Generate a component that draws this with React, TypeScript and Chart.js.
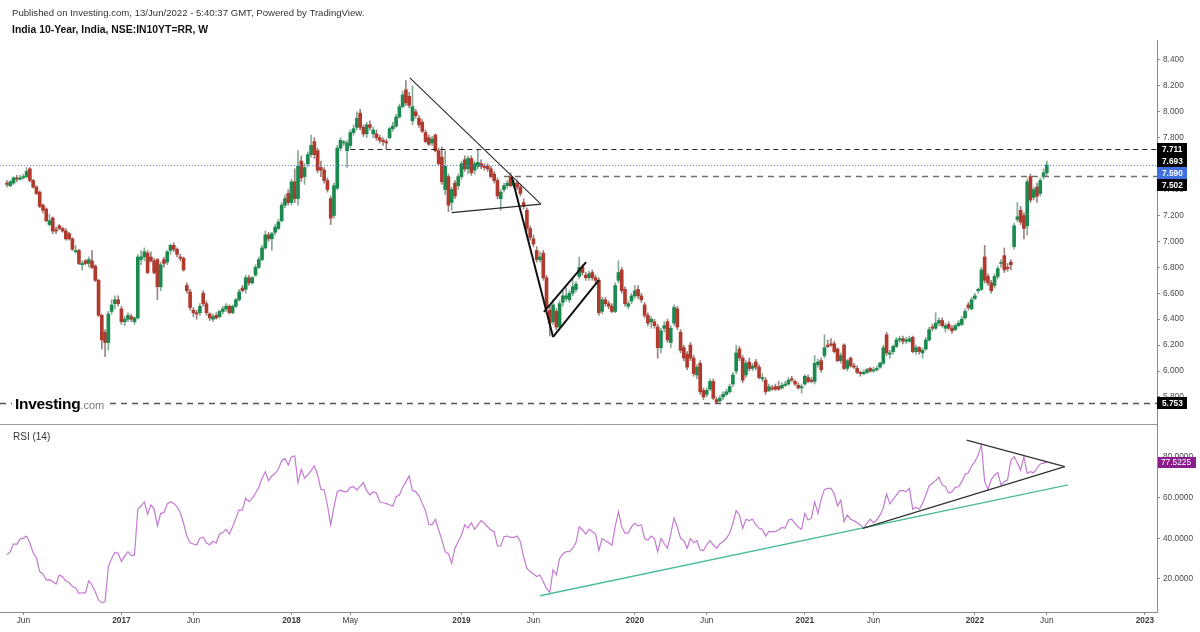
import React, { useEffect, useRef } from 'react';
import { Chart, registerables } from 'chart.js';

Chart.register(...registerables);

type Candle = [number, number, number, number]; // open, high, low, close

const candles2016: Candle[] = [
  [7.45,7.47,7.42,7.44],[7.43,7.47,7.42,7.46],[7.45,7.50,7.44,7.49],[7.49,7.51,7.46,7.48],[7.48,7.51,7.47,7.49],
  [7.49,7.52,7.48,7.50],[7.50,7.57,7.49,7.54],[7.56,7.57,7.46,7.47],[7.47,7.48,7.41,7.42],[7.42,7.43,7.36,7.37],
  [7.38,7.39,7.26,7.27],[7.28,7.29,7.22,7.24],[7.25,7.26,7.15,7.16],[7.13,7.21,7.12,7.16],[7.18,7.19,7.06,7.08],
  [7.09,7.11,7.06,7.08],[7.12,7.13,7.09,7.10],[7.10,7.11,7.07,7.08],[7.08,7.10,7.01,7.02],[7.06,7.07,7.01,7.02],
  [7.02,7.03,6.93,6.94],[6.92,6.97,6.91,6.93],[6.93,6.94,6.82,6.83],[6.82,6.85,6.78,6.83],[6.85,6.86,6.82,6.83],
  [6.83,6.88,6.80,6.86],[6.85,6.93,6.79,6.80],[6.81,6.82,6.69,6.70],[6.70,6.71,6.42,6.43],[6.43,6.44,6.17,6.24],
  [6.30,6.32,6.11,6.22],[6.22,6.46,6.16,6.44],[6.46,6.55,6.44,6.51],[6.52,6.58,6.48,6.55],[6.55,6.58,6.50,6.52],
];
const candles2017: Candle[] = [
  [6.48,6.50,6.36,6.38],[6.38,6.42,6.35,6.40],[6.40,6.45,6.38,6.43],[6.42,6.44,6.38,6.40],[6.38,6.42,6.36,6.41],
  [6.41,6.90,6.40,6.88],[6.86,6.93,6.82,6.88],[6.88,6.95,6.85,6.92],[6.91,6.93,6.75,6.76],[6.88,6.92,6.84,6.85],
  [6.85,6.87,6.75,6.76],[6.86,6.87,6.55,6.65],[6.65,6.84,6.62,6.82],[6.86,6.88,6.80,6.83],[6.84,6.93,6.82,6.92],
  [6.93,6.98,6.90,6.97],[6.97,6.99,6.92,6.94],[6.94,6.95,6.88,6.90],[6.88,6.90,6.85,6.87],[6.87,6.88,6.77,6.78],
  [6.66,6.68,6.60,6.62],[6.61,6.63,6.47,6.49],[6.47,6.49,6.42,6.45],[6.45,6.47,6.40,6.44],[6.45,6.52,6.43,6.50],
  [6.60,6.62,6.50,6.52],[6.52,6.54,6.43,6.45],[6.44,6.45,6.39,6.41],[6.40,6.44,6.38,6.42],[6.43,6.45,6.40,6.41],
  [6.42,6.47,6.41,6.46],[6.46,6.50,6.44,6.48],[6.48,6.52,6.46,6.50],[6.50,6.51,6.44,6.45],[6.45,6.51,6.44,6.50],
  [6.50,6.56,6.49,6.55],[6.55,6.63,6.54,6.61],[6.64,6.66,6.61,6.62],[6.63,6.74,6.60,6.72],[6.72,6.74,6.66,6.68],
  [6.68,6.73,6.67,6.72],[6.74,6.82,6.73,6.80],[6.80,6.88,6.79,6.86],[6.86,6.97,6.85,6.95],[6.95,7.08,6.94,7.05],
  [7.05,7.07,7.00,7.02],[7.02,7.07,6.93,7.06],[7.07,7.13,7.05,7.11],[7.10,7.17,7.09,7.15],[7.16,7.30,7.15,7.28],
  [7.28,7.36,7.26,7.33],[7.37,7.40,7.28,7.30],
];
const candles2018: Candle[] = [
  [7.30,7.48,7.28,7.46],[7.46,7.56,7.30,7.33],[7.33,7.70,7.28,7.58],[7.62,7.66,7.46,7.49],[7.50,7.60,7.44,7.57],
  [7.60,7.69,7.58,7.67],[7.67,7.82,7.65,7.74],[7.77,7.80,7.64,7.67],[7.70,7.72,7.53,7.55],[7.57,7.62,7.50,7.55],
  [7.55,7.57,7.45,7.47],[7.47,7.49,7.38,7.40],[7.33,7.35,7.13,7.18],[7.20,7.45,7.18,7.43],[7.41,7.74,7.40,7.72],
  [7.72,7.80,7.70,7.78],[7.76,7.78,7.74,7.76],[7.70,7.78,7.57,7.76],[7.74,7.86,7.72,7.84],[7.84,7.90,7.82,7.87],
  [7.88,8.00,7.86,7.95],[7.99,8.02,7.86,7.88],[7.88,7.90,7.81,7.83],[7.83,7.92,7.80,7.90],[7.90,7.93,7.86,7.88],
  [7.83,7.88,7.80,7.86],[7.83,7.86,7.78,7.80],[7.80,7.82,7.76,7.78],[7.78,7.80,7.74,7.77],[7.77,7.79,7.71,7.76],
  [7.80,7.88,7.79,7.87],[7.87,7.92,7.85,7.89],[7.89,7.98,7.88,7.96],[7.96,8.06,7.95,8.04],[8.04,8.16,8.03,8.13],
  [8.17,8.24,8.05,8.07],[8.12,8.15,8.03,8.05],[7.93,8.20,7.90,8.04],[8.00,8.02,7.95,7.97],[7.95,7.97,7.88,7.90],
  [7.92,7.94,7.84,7.85],[7.84,7.86,7.76,7.77],[7.80,7.82,7.74,7.75],[7.76,7.81,7.74,7.79],[7.82,7.83,7.69,7.70],
  [7.70,7.72,7.59,7.60],[7.65,7.73,7.44,7.46],[7.40,7.70,7.36,7.58],[7.50,7.52,7.23,7.28],[7.30,7.42,7.24,7.40],
  [7.45,7.47,7.33,7.35],[7.43,7.52,7.40,7.50],
];
const candles2019: Candle[] = [
  [7.50,7.62,7.48,7.60],[7.63,7.66,7.54,7.56],[7.56,7.66,7.52,7.64],[7.64,7.66,7.51,7.53],[7.55,7.62,7.52,7.60],
  [7.58,7.71,7.56,7.61],[7.60,7.63,7.56,7.58],[7.58,7.60,7.55,7.57],[7.58,7.60,7.54,7.56],[7.56,7.58,7.49,7.50],
  [7.52,7.54,7.45,7.47],[7.47,7.49,7.33,7.35],[7.33,7.40,7.24,7.38],[7.40,7.45,7.38,7.43],[7.43,7.47,7.41,7.45],
  [7.50,7.53,7.42,7.43],[7.43,7.47,7.41,7.45],[7.45,7.47,7.40,7.42],[7.42,7.44,7.35,7.37],[7.30,7.33,7.25,7.27],
  [7.24,7.26,7.08,7.10],[7.10,7.12,7.01,7.03],[7.02,7.05,6.96,6.98],[6.93,6.96,6.84,6.86],[6.86,6.92,6.84,6.88],
  [6.91,6.93,6.70,6.72],[6.72,6.74,6.47,6.49],[6.47,6.50,6.27,6.37],[6.38,6.55,6.36,6.51],[6.46,6.48,6.32,6.34],
  [6.34,6.54,6.33,6.52],[6.53,6.62,6.50,6.58],[6.56,6.64,6.54,6.58],[6.55,6.62,6.53,6.60],[6.60,6.72,6.58,6.65],
  [6.63,6.69,6.61,6.67],[6.73,6.88,6.71,6.80],[6.80,6.82,6.74,6.76],[6.74,6.76,6.70,6.72],[6.72,6.77,6.70,6.75],
  [6.76,6.78,6.70,6.72],[6.72,6.74,6.68,6.70],[6.70,6.72,6.43,6.45],[6.46,6.57,6.44,6.55],[6.55,6.57,6.50,6.52],
  [6.52,6.54,6.48,6.50],[6.50,6.52,6.45,6.46],[6.46,6.68,6.45,6.66],[6.70,6.85,6.68,6.76],[6.78,6.80,6.60,6.62],
  [6.63,6.65,6.50,6.52],[6.50,6.54,6.48,6.52],
];
const candles2020: Candle[] = [
  [6.54,6.60,6.52,6.58],[6.58,6.66,6.56,6.62],[6.63,6.66,6.56,6.58],[6.58,6.60,6.53,6.55],[6.51,6.53,6.41,6.43],
  [6.43,6.45,6.35,6.37],[6.38,6.42,6.33,6.40],[6.38,6.40,6.33,6.35],[6.34,6.36,6.10,6.18],[6.18,6.33,6.14,6.31],
  [6.33,6.38,6.30,6.35],[6.38,6.40,6.22,6.24],[6.22,6.35,6.18,6.33],[6.37,6.51,6.35,6.49],[6.48,6.50,6.32,6.34],
  [6.30,6.32,6.14,6.16],[6.18,6.20,6.08,6.10],[6.13,6.15,6.01,6.03],[6.20,6.22,6.08,6.10],[6.10,6.12,5.96,5.98],
  [5.97,6.05,5.94,6.03],[6.06,6.08,5.82,5.84],[5.85,5.87,5.78,5.80],[5.82,5.87,5.80,5.85],[5.86,5.94,5.85,5.92],
  [5.92,5.94,5.78,5.79],[5.78,5.80,5.753,5.76],[5.77,5.81,5.76,5.79],[5.80,5.84,5.78,5.82],[5.82,5.86,5.81,5.84],
  [5.84,5.90,5.83,5.88],[5.90,5.99,5.88,5.97],[6.00,6.20,5.98,6.14],[6.17,6.19,6.08,6.10],[6.10,6.12,5.91,5.93],
  [5.97,6.08,5.95,6.06],[6.07,6.10,6.00,6.02],[6.02,6.06,6.00,6.04],[6.07,6.09,6.01,6.03],[6.03,6.05,5.94,5.95],
  [5.94,5.98,5.92,5.95],[5.93,5.95,5.82,5.84],[5.85,5.90,5.84,5.88],[5.87,5.89,5.85,5.86],[5.88,5.90,5.85,5.86],
  [5.88,5.92,5.85,5.86],[5.87,5.91,5.86,5.89],[5.89,5.92,5.88,5.90],[5.90,5.95,5.89,5.93],[5.94,5.96,5.92,5.93],
  [5.92,5.93,5.89,5.90],[5.89,5.91,5.86,5.87],
];
const candles2021: Candle[] = [
  [5.87,5.90,5.83,5.88],[5.90,5.97,5.89,5.96],[5.95,5.97,5.91,5.92],[5.93,5.95,5.91,5.92],[5.92,6.12,5.90,6.06],
  [6.05,6.09,6.03,6.07],[6.08,6.10,5.99,6.01],[6.12,6.28,6.10,6.18],[6.20,6.24,6.18,6.19],[6.21,6.25,6.19,6.20],
  [6.21,6.23,6.14,6.15],[6.17,6.18,6.07,6.08],[6.08,6.14,6.06,6.12],[6.20,6.21,6.01,6.02],[6.02,6.09,6.00,6.08],
  [6.10,6.11,6.03,6.04],[6.04,6.06,6.02,6.03],[6.02,6.04,5.98,5.99],[5.99,6.00,5.96,5.98],[5.98,6.01,5.97,5.99],
  [5.99,6.02,5.98,6.01],[6.02,6.03,5.99,6.00],[6.00,6.03,5.99,6.01],[6.01,6.04,6.00,6.02],[6.03,6.07,6.02,6.06],
  [6.06,6.20,6.05,6.18],[6.28,6.30,6.12,6.14],[6.13,6.16,6.10,6.14],[6.15,6.20,6.13,6.19],[6.19,6.26,6.18,6.24],
  [6.24,6.27,6.22,6.25],[6.25,6.27,6.21,6.23],[6.23,6.26,6.21,6.24],[6.23,6.27,6.22,6.25],[6.26,6.27,6.14,6.15],
  [6.15,6.20,6.13,6.18],[6.18,6.19,6.13,6.15],[6.14,6.18,6.10,6.16],[6.17,6.26,6.16,6.24],[6.24,6.34,6.23,6.32],
  [6.34,6.36,6.31,6.33],[6.33,6.45,6.32,6.37],[6.37,6.41,6.35,6.39],[6.39,6.41,6.34,6.35],[6.33,6.37,6.30,6.35],
  [6.36,6.38,6.32,6.33],[6.33,6.35,6.29,6.31],[6.32,6.36,6.31,6.35],[6.35,6.39,6.34,6.37],[6.36,6.42,6.35,6.40],
  [6.41,6.48,6.40,6.46],[6.51,6.53,6.47,6.49],[6.48,6.57,6.47,6.55],
];
const candles2022: Candle[] = [
  [6.56,6.60,6.55,6.58],[6.62,6.64,6.60,6.63],[6.63,6.80,6.62,6.78],[6.88,6.97,6.68,6.70],[6.73,6.75,6.66,6.68],
  [6.68,6.70,6.60,6.62],[6.66,6.75,6.64,6.73],[6.73,6.81,6.71,6.79],[6.83,6.86,6.80,6.83],[6.89,6.95,6.76,6.78],
  [6.80,6.83,6.77,6.79],[6.84,6.86,6.78,6.82],[6.96,7.14,6.94,7.12],[7.17,7.30,7.15,7.19],[7.24,7.27,7.13,7.15],
  [7.20,7.22,7.02,7.10],[7.12,7.48,7.05,7.46],[7.50,7.52,7.30,7.32],[7.34,7.42,7.32,7.40],[7.42,7.45,7.30,7.35],
  [7.37,7.49,7.35,7.47],[7.50,7.56,7.48,7.53],[7.53,7.62,7.51,7.59],
];

const rsi2016 = [31.8,33.4,37.2,37.0,39.6,40.1,41.1,37.7,32.9,30.4,23.6,22.4,19.5,19.6,18.6,17.5,21.9,21.1,19.0,18.2,16.2,15.5,12.9,13.1,13.1,19.1,17.0,13.7,9.6,8.3,8.8,26.0,30.1,33.1,32.6];
const rsi2017 = [28.5,31.3,33.4,31.5,31.8,54.3,55.9,58.0,52.0,56.4,54.5,46.1,52.3,52.6,56.9,58.0,57.2,55.6,52.6,47.4,41.1,37.8,37.2,36.7,40.0,40.5,37.6,36.8,38.5,37.7,42.1,42.8,44.4,42.1,45.7,49.9,54.0,54.0,59.7,58.0,59.7,62.2,65.1,69.6,72.8,68.4,70.7,71.9,74.0,78.2,79.4,76.1];
const rsi2018 = [80.2,80.6,67.4,74.0,69.6,71.2,73.3,75.6,71.2,64.1,63.8,56.4,46.6,55.6,63.0,63.8,63.0,63.0,65.1,65.4,63.8,65.7,67.4,63.5,61.3,62.9,62.2,58.0,57.5,57.2,56.4,55.9,60.5,61.3,65.1,67.9,70.7,63.5,63.0,60.9,57.2,53.6,46.9,46.6,49.4,44.1,39.2,33.4,32.3,27.7,35.1,38.4];
const rsi2019 = [41.6,46.6,45.0,47.7,44.4,46.6,48.7,47.4,45.7,44.1,43.3,36.2,36.2,40.8,41.1,40.5,40.5,41.1,38.4,30.9,25.2,23.6,22.4,21.1,21.9,18.6,15.3,13.4,24.4,21.9,30.1,32.3,33.4,33.4,35.1,37.8,45.7,44.1,42.1,44.4,43.3,42.1,33.9,39.9,38.8,37.8,36.6,45.7,53.1,45.7,42.5,42.5];
const rsi2020 = [45.7,47.4,46.1,46.6,39.9,39.0,41.1,39.9,33.4,39.9,37.4,35.1,42.0,49.9,45.7,39.9,38.8,35.1,39.9,37.8,38.8,34.3,34.0,36.8,38.8,36.8,35.1,37.2,38.4,40.0,42.5,47.4,53.6,51.5,44.9,49.4,48.7,49.4,46.6,44.9,44.4,41.1,43.3,43.3,43.3,44.1,45.4,44.9,49.0,49.4,47.4,45.4];
const rsi2021 = [44.4,52.3,49.0,49.9,58.0,52.3,59.2,64.1,64.6,64.6,61.9,55.9,58.8,48.2,51.5,49.4,48.7,47.7,46.6,44.9,47.4,49.4,47.7,49.0,51.5,54.8,61.8,56.9,59.2,61.3,63.5,63.5,63.0,64.6,54.3,55.3,54.3,57.2,61.3,65.8,67.1,68.4,70.1,66.3,65.4,62.2,63.0,65.1,65.4,67.9,71.4,72.3,75.6];
const rsi2022 = [77.7,81.0,86.0,67.9,64.1,68.8,71.2,72.3,66.3,67.9,68.8,78.2,80.2,77.2,73.6,80.2,72.0,72.8,72.3,74.5,76.6,77.0,77.5225];

// x axis: week index (0 = week of 1 May 2016)
const xTickIndex = [5, 35, 57, 87, 105, 139, 161, 192, 214, 244, 265, 296, 318, 348];
const xTickLabels = ['Jun', '2017', 'Jun', '2018', 'May', '2019', 'Jun', '2020', 'Jun', '2021', 'Jun', '2022', 'Jun', '2023'];
const xRange = [-2.14, 351.7];
const priceTicks = [5.8, 6.0, 6.2, 6.4, 6.6, 6.8, 7.0, 7.2, 7.4, 7.6, 7.8, 8.0, 8.2, 8.4];
const priceRange = [5.5914, 8.554];
const rsiTicks = [20, 40, 60, 80];
const rsiRange = [3.69, 96.3];

// horizontal levels (value, starting week index)
const levelValues = [7.711, 7.502, 5.753];
const levelStartIndex = [105, 152, -3];
const priceTagValues = [7.711, 7.693, 7.59, 7.502, 5.753];
const lastPrice = 7.59;
const rsiLastValue = 77.5225;

// drawings in data units: [index1, value1, index2, value2]
const priceThinLines = [
  [123.2, 8.261, 163.3, 7.288],
  [136.0, 7.222, 163.3, 7.288],
];
const priceThickLines = [
  [154.4, 7.497, 167.0, 6.263],
  [164.2, 6.456, 177.1, 6.841],
  [167.0, 6.263, 181.0, 6.702],
];
const rsiTriangleLines = [
  [261.7, 44.9, 323.5, 75.3],
  [293.5, 88.4, 323.5, 75.3],
];
const rsiSupportLine = [163.0, 11.7, 324.5, 66.3];

const FONT = "'Liberation Sans', Arial, Helvetica, sans-serif";

export default function App() {
  const ref = useRef<HTMLCanvasElement>(null);

  useEffect(() => {
    const candles: Candle[] = [
      ...candles2016, ...candles2017, ...candles2018, ...candles2019,
      ...candles2020, ...candles2021, ...candles2022,
    ];
    const rsi: number[] = [...rsi2016, ...rsi2017, ...rsi2018, ...rsi2019, ...rsi2020, ...rsi2021, ...rsi2022];
    const isUp = candles.map((c) => c[3] >= c[0]);
    const bodyColors = isUp.map((u) => (u ? '#1b8a4f' : '#b13a2f'));
    const wickColors = isUp.map((u) => (u ? '#86ab97' : '#9c8280'));

    const seg = (ctx: CanvasRenderingContext2D, x1: number, y1: number, x2: number, y2: number) => {
      ctx.beginPath();
      ctx.moveTo(x1, y1);
      ctx.lineTo(x2, y2);
      ctx.stroke();
    };

    const overlay = {
      id: 'overlay',
      afterDatasetsDraw(chart: any) {
        const { ctx, chartArea } = chart;
        const xs = chart.scales.x;
        const yp = chart.scales.y;
        const yr = chart.scales.yRsi;
        const L = chartArea.left;
        const R = chartArea.right;

        ctx.save();
        ctx.beginPath();
        ctx.rect(L, yp.top, R - L, yp.bottom - yp.top);
        ctx.clip();

        ctx.strokeStyle = '#5d80f2';
        ctx.lineWidth = 1;
        ctx.setLineDash([1, 2]);
        const yl = Math.round(yp.getPixelForValue(lastPrice)) + 0.5;
        seg(ctx, L, yl, R, yl);

        const levelStyles = [
          { c: '#222222', w: 1, d: [5, 4] },
          { c: '#6f6f6f', w: 1.6, d: [6, 5] },
          { c: '#555555', w: 1.5, d: [6, 5] },
        ];
        levelValues.forEach((v, i) => {
          const st = levelStyles[i];
          ctx.strokeStyle = st.c;
          ctx.lineWidth = st.w;
          ctx.setLineDash(st.d);
          const y = Math.round(yp.getPixelForValue(v)) + 0.5;
          seg(ctx, Math.max(L, xs.getPixelForValue(levelStartIndex[i])), y, R, y);
        });

        ctx.setLineDash([]);
        ctx.strokeStyle = '#2a2a2a';
        ctx.lineWidth = 1.1;
        priceThinLines.forEach(([a, b, c, d]) =>
          seg(ctx, xs.getPixelForValue(a), yp.getPixelForValue(b), xs.getPixelForValue(c), yp.getPixelForValue(d)));
        ctx.strokeStyle = '#111111';
        ctx.lineWidth = 2;
        priceThickLines.forEach(([a, b, c, d]) =>
          seg(ctx, xs.getPixelForValue(a), yp.getPixelForValue(b), xs.getPixelForValue(c), yp.getPixelForValue(d)));
        ctx.restore();

        ctx.save();
        ctx.beginPath();
        ctx.rect(L, yr.top, R - L, yr.bottom - yr.top);
        ctx.clip();
        ctx.strokeStyle = '#4dbb9c';
        ctx.lineWidth = 1.3;
        {
          const [a, b, c, d] = rsiSupportLine;
          seg(ctx, xs.getPixelForValue(a), yr.getPixelForValue(b), xs.getPixelForValue(c), yr.getPixelForValue(d));
        }
        ctx.strokeStyle = '#333333';
        ctx.lineWidth = 1.3;
        rsiTriangleLines.forEach(([a, b, c, d]) =>
          seg(ctx, xs.getPixelForValue(a), yr.getPixelForValue(b), xs.getPixelForValue(c), yr.getPixelForValue(d)));
        ctx.restore();
      },
      afterDraw(chart: any) {
        const { ctx, chartArea } = chart;
        const yp = chart.scales.y;
        const yr = chart.scales.yRsi;
        const R = chartArea.right;

        ctx.save();
        ctx.strokeStyle = '#9a9a9a';
        ctx.lineWidth = 1;
        const ys = Math.round(yp.bottom) + 0.5;
        seg(ctx, 0, ys, R, ys);

        const tags = priceTagValues.map((v) => ({
          v,
          y: yp.getPixelForValue(v),
          bg: v === lastPrice ? '#3f6fe0' : '#000000',
        }));
        tags.sort((a, b) => a.y - b.y);
        for (let i = 1; i < tags.length; i++) {
          if (tags[i].y - tags[i - 1].y < 12) tags[i].y = tags[i - 1].y + 12;
        }
        ctx.font = `bold 8.3px ${FONT}`;
        ctx.textBaseline = 'middle';
        ctx.textAlign = 'left';
        tags.forEach((t) => {
          ctx.fillStyle = t.bg;
          ctx.fillRect(R, Math.round(t.y - 6), 30, 12);
          ctx.fillStyle = '#ffffff';
          ctx.fillText(t.v.toFixed(3), R + 5, t.y + 0.5);
        });

        const yt = yr.getPixelForValue(rsiLastValue);
        ctx.fillStyle = '#8b1c8b';
        ctx.fillRect(R + 1, Math.round(yt - 5.5), 38, 11);
        ctx.fillStyle = '#ffffff';
        ctx.font = `8.3px ${FONT}`;
        ctx.fillText(rsiLastValue.toFixed(4), R + 4, yt + 0.5);
        ctx.restore();
      },
    };

    const noPad = (s: any) => {
      s.paddingTop = 0;
      s.paddingBottom = 0;
      s.paddingLeft = 0;
      s.paddingRight = 0;
    };

    const chart = new Chart(ref.current as HTMLCanvasElement, {
      type: 'bar',
      data: {
        datasets: [
          {
            type: 'bar',
            label: 'wick',
            data: candles.map((c, i) => ({ x: i, y: [c[2], c[1]] })) as any,
            backgroundColor: wickColors,
            barThickness: 1,
            grouped: false,
            yAxisID: 'y',
            order: 3,
          } as any,
          {
            type: 'bar',
            label: 'body',
            data: candles.map((c, i) => ({ x: i, y: [c[0], c[3]] })) as any,
            backgroundColor: bodyColors,
            barThickness: 3,
            minBarLength: 1,
            grouped: false,
            yAxisID: 'y',
            order: 2,
          } as any,
          {
            type: 'line',
            label: 'RSI (14)',
            data: rsi.map((v, i) => ({ x: i, y: v })) as any,
            borderColor: '#c47ad2',
            borderWidth: 1.2,
            pointRadius: 0,
            tension: 0,
            yAxisID: 'yRsi',
            order: 1,
          } as any,
        ],
      },
      options: {
        responsive: false,
        animation: false,
        devicePixelRatio: 1,
        events: [],
        layout: { padding: { top: 40, left: 0, right: 0, bottom: 0 } },
        plugins: { legend: { display: false }, tooltip: { enabled: false }, title: { display: false } },
        scales: {
          x: {
            type: 'linear',
            min: xRange[0],
            max: xRange[1],
            offset: false,
            grid: { display: true, offset: false, drawOnChartArea: false, tickLength: 3, color: '#8a8a8a' },
            border: { display: true, color: '#8a8a8a' },
            ticks: {
              autoSkip: false,
              maxRotation: 0,
              padding: 1,
              color: '#3a3a3a',
              font: (ctx: any) => ({
                size: 8.3,
                family: FONT,
                weight: /^\d{4}$/.test(xTickLabels[ctx.index] || '') ? 'bold' : 'normal',
              }),
              callback: (_v: any, i: number) => xTickLabels[i],
            },
            afterBuildTicks: (s: any) => {
              s.ticks = xTickIndex.map((value) => ({ value }));
            },
            afterFit: (s: any) => {
              s.height = 20;
              noPad(s);
            },
          } as any,
          y: {
            type: 'linear',
            position: 'right',
            stack: 'panes',
            stackWeight: 384,
            min: priceRange[0],
            max: priceRange[1],
            grid: { display: true, drawOnChartArea: false, tickLength: 3, color: '#8a8a8a' },
            border: { display: true, color: '#8a8a8a' },
            ticks: {
              padding: 3,
              color: '#4a4a4a',
              font: { size: 8.3, family: FONT },
              callback: (v: any) => Number(v).toFixed(3),
            },
            afterBuildTicks: (s: any) => {
              s.ticks = priceTicks.map((value) => ({ value }));
            },
            afterFit: (s: any) => {
              s.width = 43;
              noPad(s);
            },
          } as any,
          yRsi: {
            type: 'linear',
            position: 'right',
            stack: 'panes',
            stackWeight: 188,
            min: rsiRange[0],
            max: rsiRange[1],
            grid: { display: true, drawOnChartArea: false, tickLength: 3, color: '#8a8a8a' },
            border: { display: true, color: '#8a8a8a' },
            ticks: {
              padding: 3,
              color: '#4a4a4a',
              font: { size: 8.3, family: FONT },
              callback: (v: any) => Number(v).toFixed(4),
            },
            afterBuildTicks: (s: any) => {
              s.ticks = rsiTicks.map((value) => ({ value }));
            },
            afterFit: (s: any) => {
              s.width = 43;
              noPad(s);
            },
          } as any,
        },
      } as any,
      plugins: [overlay],
    });
    return () => chart.destroy();
  }, []);

  return (
    <div style={{ position: 'fixed', left: 0, top: 0, width: 1200, height: 632, background: '#ffffff', overflow: 'hidden' }}>
      <canvas ref={ref} width={1200} height={632} style={{ position: 'absolute', left: 0, top: 0, width: 1200, height: 632 }} />
      <div style={{ position: 'absolute', left: 12, top: 8, fontFamily: FONT, fontSize: 9.6, lineHeight: '9.6px', color: '#333', whiteSpace: 'nowrap' }}>
        Published on Investing.com, 13/Jun/2022 - 5:40:37 GMT, Powered by TradingView.
      </div>
      <div style={{ position: 'absolute', left: 12, top: 24.5, fontFamily: FONT, fontSize: 10.4, lineHeight: '10.4px', fontWeight: 'bold', color: '#111', whiteSpace: 'nowrap' }}>
        India 10-Year, India, NSE:IN10YT=RR, W
      </div>
      <div style={{ position: 'absolute', left: 13, top: 431.5, fontFamily: FONT, fontSize: 10, lineHeight: '10px', color: '#333', whiteSpace: 'nowrap' }}>
        RSI (14)
      </div>
      <div style={{ position: 'absolute', left: 12, top: 396, padding: '0 3px', background: '#ffffff', fontFamily: FONT, whiteSpace: 'nowrap', lineHeight: '16px' }}>
        <span style={{ fontSize: 15.5, fontWeight: 'bold', color: '#000', letterSpacing: '-0.3px' }}>Investing</span>
        <span style={{ fontSize: 11, color: '#777' }}>.com</span>
      </div>
    </div>
  );
}
